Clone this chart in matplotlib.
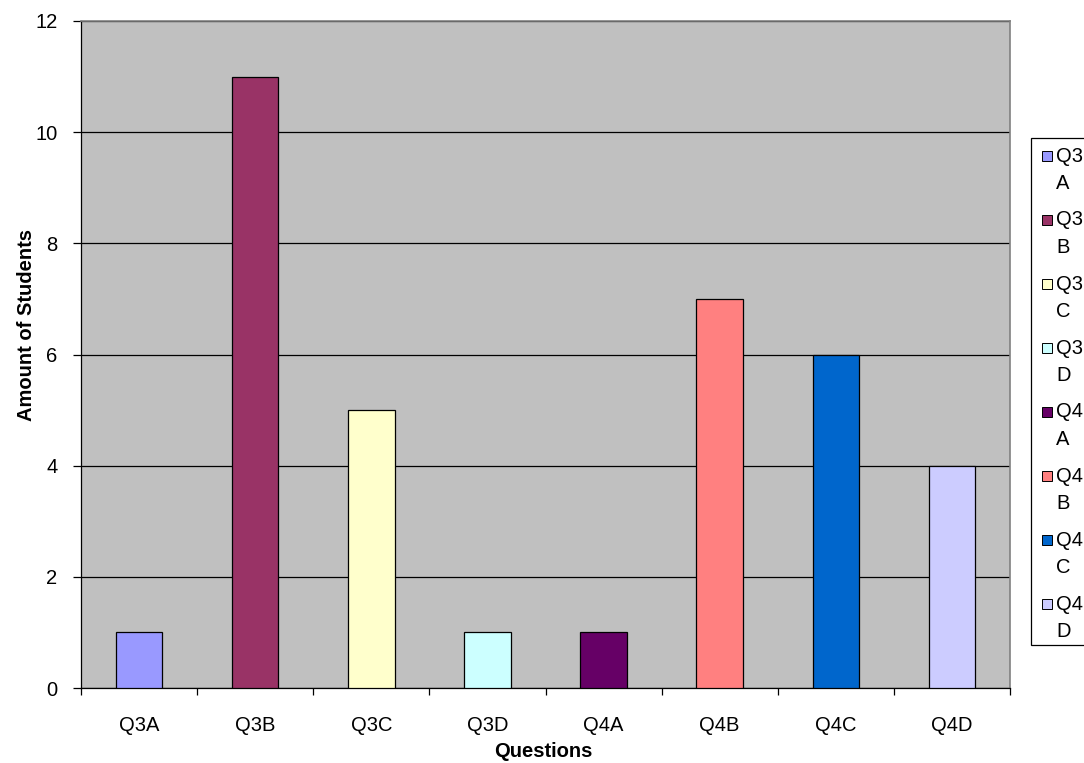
import matplotlib
matplotlib.use("Agg")
import matplotlib.pyplot as plt
from matplotlib.patches import Rectangle
import numpy as np

plt.rcParams['font.family'] = ['Liberation Sans', 'DejaVu Sans']

categories = ["Q3A", "Q3B", "Q3C", "Q3D", "Q4A", "Q4B", "Q4C", "Q4D"]
students = [1, 11, 5, 1, 1, 7, 6, 4]
legend_labels = ["Q3\nA", "Q3\nB", "Q3\nC", "Q3\nD", "Q4\nA", "Q4\nB", "Q4\nC", "Q4\nD"]
colors = ["#9999FF", "#993366", "#FFFFCC", "#CCFFFF",
          "#660066", "#FF8080", "#0066CC", "#CCCCFF"]
y_ticks = [0, 2, 4, 6, 8, 10, 12]

FS = 14.5
W, H = 1084, 763
fig = plt.figure(figsize=(W / 100, H / 100), dpi=100)
ax_l, ax_r, ax_t, ax_b = 81, 1010, 21, 688
ax = fig.add_axes([ax_l / W, 1 - ax_b / H, (ax_r - ax_l) / W, (ax_b - ax_t) / H])
ax.set_facecolor("#C0C0C0")

x = np.arange(len(categories))
ax.bar(x, students, width=0.4, color=colors, edgecolor="black",
       linewidth=0.9, zorder=3)

ax.set_xlim(-0.5, len(categories) - 0.5)
ax.set_ylim(0, 12)
ax.set_yticks(y_ticks)
ax.yaxis.grid(True, color="black", linewidth=0.9, zorder=1)
ax.set_axisbelow(True)

# category labels centred under bars, ticks on category boundaries
ax.set_xticks(x)
ax.set_xticklabels(categories, fontsize=FS)
ax.tick_params(axis="x", which="major", length=0, pad=20)
ax.set_xticks(np.arange(-0.5, len(categories)), minor=True)
ax.tick_params(axis="x", which="minor", length=5, width=0.9, direction="out",
               color="black")
ax.tick_params(axis="y", length=6, width=0.9, direction="out", pad=11,
               labelsize=FS, color="black")

for side in ("top", "right"):
    ax.spines[side].set_color("#808080")
    ax.spines[side].set_linewidth(1.2)
for side in ("left", "bottom"):
    ax.spines[side].set_color("black")
    ax.spines[side].set_linewidth(0.9)

pw, ph = ax_r - ax_l, ax_b - ax_t
ax.set_xlabel("Questions", fontsize=FS, fontweight="bold")
ax.xaxis.set_label_coords((543 - ax_l) / pw, (ax_b - 742) / ph)
ax.set_ylabel("Amount of Students", fontsize=FS, fontweight="bold")
ax.yaxis.set_label_coords((36 - ax_l) / pw, (ax_b - 325) / ph)

# legend box at the right edge
box_left, box_top, box_bottom = 1031, 138, 645
fig.add_artist(Rectangle((box_left / W, 1 - box_bottom / H),
                         (W + 20 - box_left) / W, (box_bottom - box_top) / H,
                         transform=fig.transFigure, facecolor="white",
                         edgecolor="black", linewidth=0.9, clip_on=False))
row_step = 64
first_row = 156
for i, (lab, col) in enumerate(zip(legend_labels, colors)):
    yc = first_row + i * row_step
    fig.add_artist(Rectangle((1042 / W, 1 - (yc + 5) / H), 10 / W, 10 / H,
                             transform=fig.transFigure, facecolor=col,
                             edgecolor="black", linewidth=0.7))
    top, bottom = lab.split("\n")
    fig.text(1056 / W, 1 - yc / H, top, fontsize=FS, va="center", ha="left")
    fig.text(1056 / W, 1 - (yc + 27.5) / H, bottom, fontsize=FS, va="center",
             ha="left")

fig.savefig("out.png", dpi=100)
